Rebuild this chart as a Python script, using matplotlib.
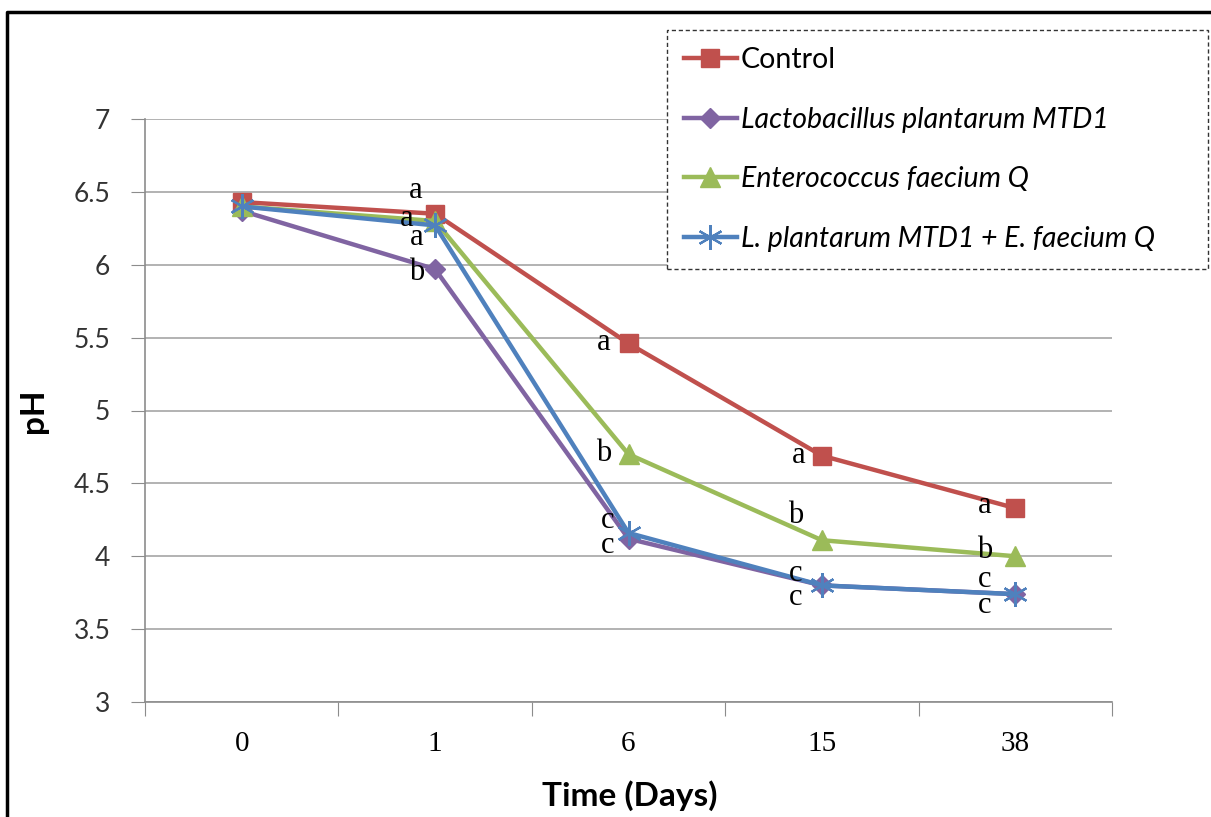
import matplotlib.pyplot as plt
from matplotlib.lines import Line2D

# pH over storage time
days = ["0", "1", "6", "15", "38"]
control = [6.43, 6.35, 5.46, 4.69, 4.33]
lacto = [6.37, 5.97, 4.12, 3.80, 3.74]
entero = [6.40, 6.30, 4.70, 4.11, 4.00]
mix = [6.40, 6.27, 4.16, 3.80, 3.74]

control_let = ["", "a", "a", "a", "a"]
lacto_let = ["", "b", "c", "c", "c"]
entero_let = ["", "a", "b", "b", "b"]
mix_let = ["", "a", "c", "c", "c"]

names = ["Control", "Lactobacillus plantarum MTD1", "Enterococcus faecium Q",
         "L. plantarum MTD1 + E. faecium Q"]

SANS = "Lato"
SERIF = "Liberation Serif"

fig = plt.figure(figsize=(12.11, 8.17), dpi=100)
ax = fig.add_axes([145 / 1211, 1 - 702 / 817, 967 / 1211, 583 / 817])

x = list(range(len(days)))
series = [
    (control, control_let, "#C0504D", dict(marker="s", markersize=13)),
    (lacto, lacto_let, "#8064A2", dict(marker="D", markersize=10)),
    (entero, entero_let, "#9BBB59", dict(marker="^", markersize=15)),
    (mix, mix_let, "#4F81BD", dict(marker=(6, 2, 0), markersize=18,
                                   markeredgecolor="#4F81BD", markeredgewidth=1.6)),
]
for (vals, lets, col, mk), name in zip(series, names):
    ax.plot(x, vals, color=col, linewidth=3.2, label=name, zorder=3, **mk)

# letter offsets in pixels (dx, dy up), per series, per day
offs = {
    0: [(0, 0), (-19, 16), (-25, -7), (-23, -7), (-31, -5)],
    1: [(0, 0), (-18, -11), (-21, -14), (-26, -20), (-31, -19)],
    2: [(0, 0), (-28, -5), (-25, -7), (-26, 17), (-31, -2)],
    3: [(0, 0), (-18, -20), (-21, 5), (-26, 4), (-31, 7)],
}
for i, (vals, lets, col, mk) in enumerate(series):
    for j, (v, t) in enumerate(zip(vals, lets)):
        if t:
            dx, dy = offs[i][j]
            ax.annotate(t, (j, v), xytext=(dx, dy), textcoords="offset pixels",
                        ha="center", va="baseline", fontsize=22, family=SERIF,
                        zorder=5)

ax.set_xlim(-0.5, 4.5)
ax.set_ylim(3, 7)
ax.set_yticks([3, 3.5, 4, 4.5, 5, 5.5, 6, 6.5, 7])
ax.set_yticklabels(["3", "3.5", "4", "4.5", "5", "5.5", "6", "6.5", "7"],
                   family=SANS, fontsize=19, color="#333333")
ax.set_xticks([-0.5, 0.5, 1.5, 2.5, 3.5, 4.5])
ax.set_xticklabels([])
ax.set_xticks(x, minor=True)
ax.set_xticklabels(days, minor=True, family=SERIF, fontsize=21)
ax.tick_params(axis="x", which="major", length=10, color="#8C8C8C", direction="out")
ax.tick_params(axis="x", which="minor", length=0, pad=21)
ax.tick_params(axis="y", length=10, color="#8C8C8C", direction="out", pad=15)

ax.grid(axis="y", color="#A6A6A6", linewidth=1.2)
ax.set_axisbelow(True)
for s in ["top", "right"]:
    ax.spines[s].set_visible(False)
for s in ["left", "bottom"]:
    ax.spines[s].set_color("#8C8C8C")
    ax.spines[s].set_linewidth(1.2)

ax.set_ylabel("pH", family=SANS, fontsize=24, fontweight="bold")
ax.yaxis.set_label_coords(-0.1, 0.5)
ax.set_xlabel("Time (Days)", family=SANS, fontsize=24, fontweight="bold")
ax.xaxis.set_label_coords(0.5016, -0.135)

leg = fig.legend(loc="upper left",
                 bbox_to_anchor=(667 / 1211, 1 - 30 / 817, 541 / 1211, 0),
                 mode="expand",
                 prop=dict(family=SANS, size=20.5), frameon=True, fancybox=False,
                 handlelength=1.85, handletextpad=0.15, labelspacing=1.18,
                 borderpad=0.6, borderaxespad=0, framealpha=1)
leg.get_frame().set_edgecolor("#333333")
leg.get_frame().set_linestyle((0, (3, 2)))
leg.get_frame().set_linewidth(1)
for t in leg.get_texts()[1:]:
    t.set_style("italic")

# outer frame (top and left edges visible)
fig.add_artist(Line2D([7 / 1211, 7 / 1211, 1], [0, 1 - 12 / 817, 1 - 12 / 817],
                      transform=fig.transFigure, color="black", linewidth=2.5))

fig.savefig("out.png", dpi=100)
